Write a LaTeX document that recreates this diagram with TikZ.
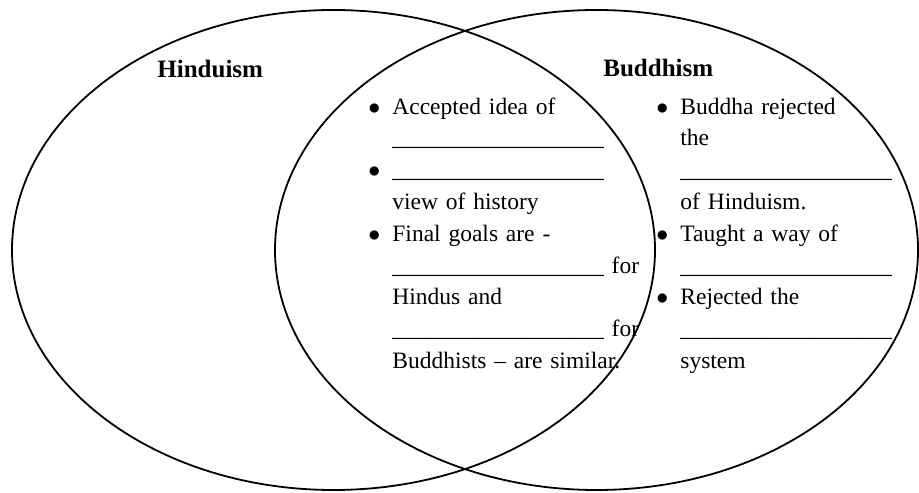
\documentclass[tikz,border=0pt]{standalone}
\usepackage{fontspec}
\setmainfont{Liberation Serif}
\usepackage{enumitem}
\usepackage{tikz}
\usetikzlibrary{positioning}

\newcommand{\blankline}{\_\_\_\_\_\_\_\_\_\_\_\_\_\_\_\_\_\_}

\begin{document}
\begin{tikzpicture}[
    x=0.5pt, y=0.5pt,
    circ/.style={draw=black, line width=0.9pt},
    heading/.style={anchor=base west, inner sep=0pt, font=\fontsize{12.5}{15}\selectfont\bfseries},
    notes/.style={anchor=north west, inner sep=0pt, text width=135pt, align=left, font=\fontsize{11.75}{15.9}\selectfont}
]
\useasboundingbox (0,0) rectangle (919,492);

\coordinate (hcentre) at (333.5,242);
\coordinate (bcentre) at (596.5,242);
\draw[circ] (hcentre) ellipse [x radius=321.5, y radius=240];
\draw[circ] (bcentre) ellipse [x radius=321.5, y radius=240];

\node[heading] (hindu) at (157,414) {Hinduism};
\node[heading] (buddha) at (603,415) {Buddhism};

\node[notes] (shared) at (372,410) {%
\begin{itemize}[label=$\bullet$, leftmargin=10pt, labelsep=6pt, itemsep=0pt, parsep=0pt, topsep=0pt, partopsep=0pt]
\item Accepted idea of\\ \blankline
\item \blankline\\ view of history
\item Final goals are -\\ \blankline{} for\\ Hindus and\\ \blankline{} for\\ Buddhists -- are similar.
\end{itemize}};

\node[notes] (onlyb) at (660,410) {%
\begin{itemize}[label=$\bullet$, leftmargin=10pt, labelsep=6pt, itemsep=0pt, parsep=0pt, topsep=0pt, partopsep=0pt]
\item Buddha rejected\\ the\\ \blankline\\ of Hinduism.
\item Taught a way of\\ \blankline
\item Rejected the\\ \blankline\\ system
\end{itemize}};

\end{tikzpicture}
\end{document}
